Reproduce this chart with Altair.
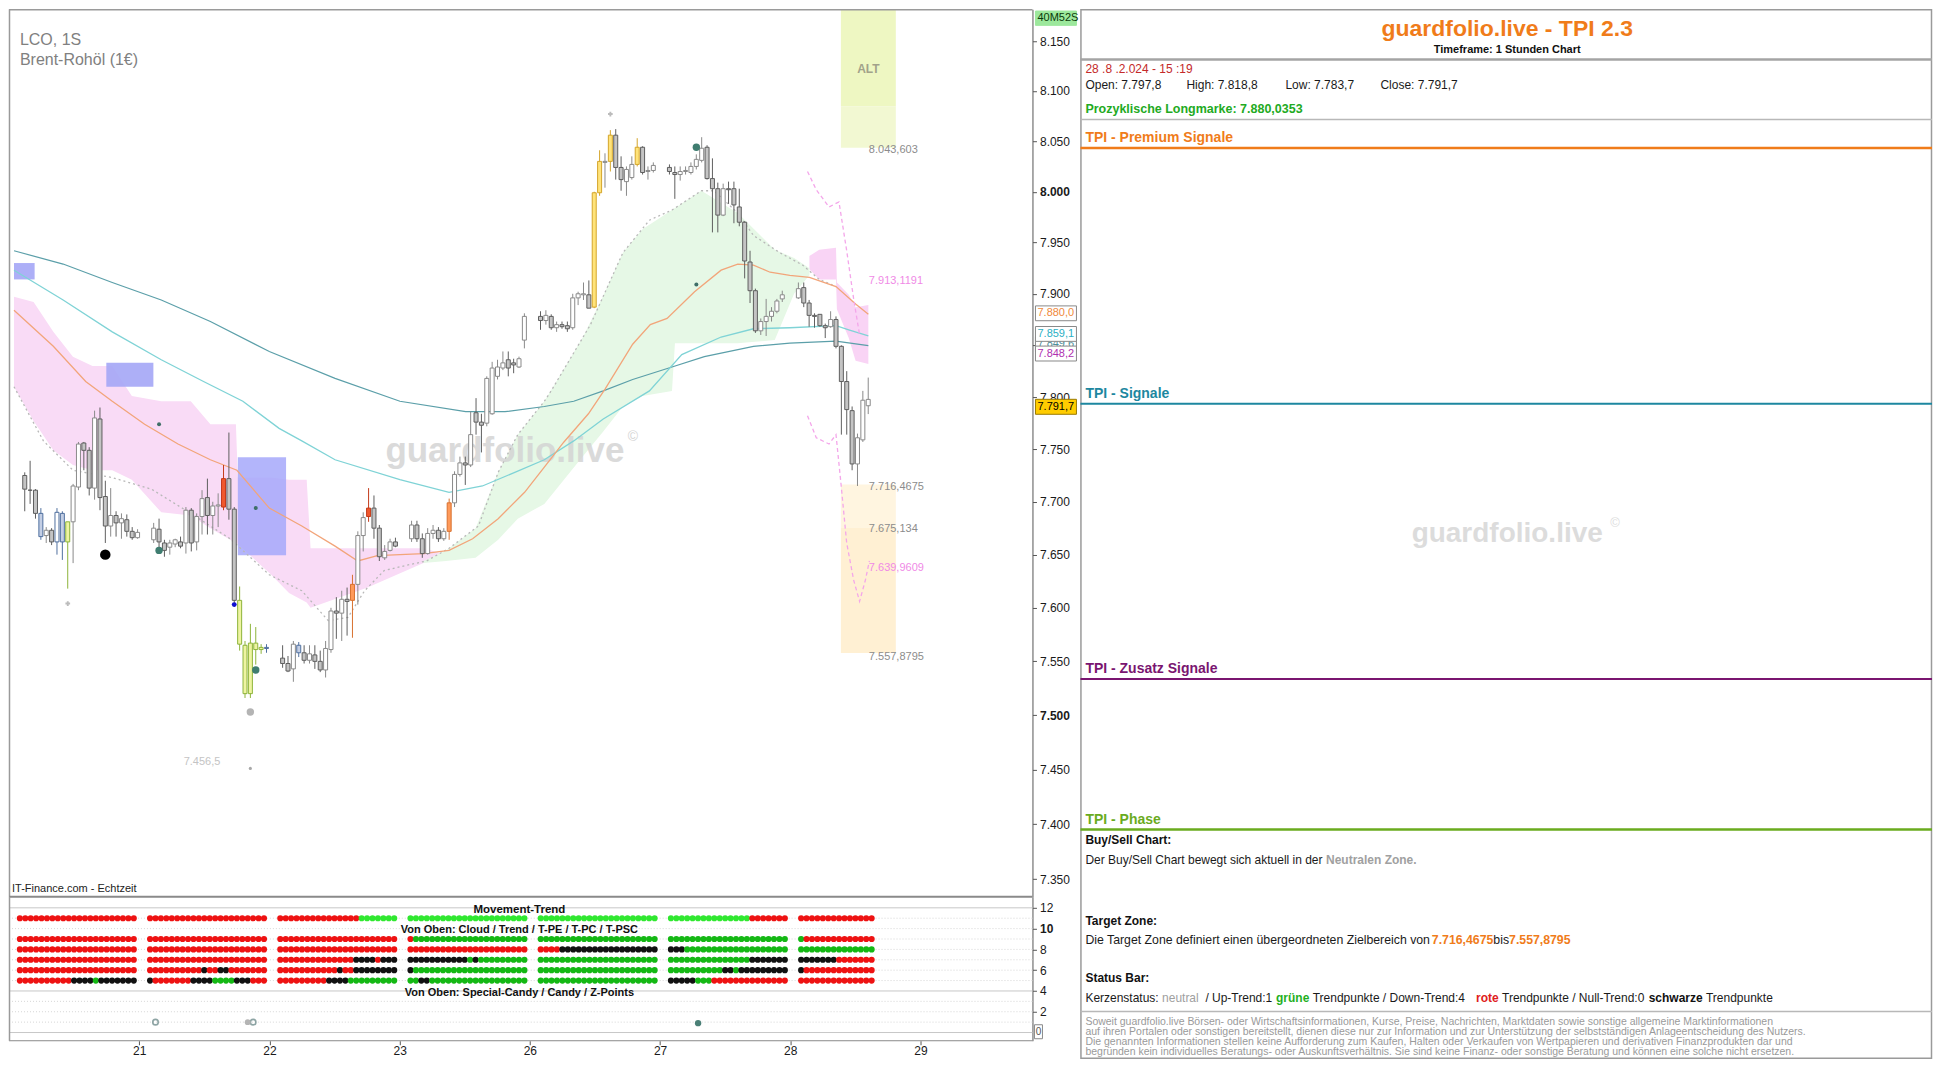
import json
import altair as alt
import pandas as pd

FONT = "Liberation Sans"

# ---------------- axis labels ----------------
day_ticks = [1, 2, 3, 4, 5, 6, 7]
day_labels = ["21", "22", "23", "26", "27", "28", "29"]
price_ticks = [7350, 7400, 7450, 7500, 7550, 7600, 7650, 7700, 7750, 7800,
               7850, 7900, 7950, 8000, 8050, 8100, 8150]
trend_ticks = [2, 4, 6, 8, 10, 12]

# ---------------- hourly candles (LCO, 1h) ----------------
d20_open = [7725, 7711, 7711, 7689, 7668, 7673, 7662, 7689, 7662, 7681, 7714, 7756, 7749, 7713, 7779, 7705, 7677, 7687, 7680, 7683, 7672, 7666]
d20_high = [7728, 7739, 7712, 7694, 7676, 7675, 7694, 7691, 7681, 7717, 7757, 7757, 7752, 7787, 7790, 7720, 7713, 7691, 7689, 7688, 7676, 7674]
d20_low = [7691, 7698, 7684, 7664, 7661, 7659, 7650, 7645, 7618, 7642, 7711, 7730, 7706, 7702, 7692, 7661, 7667, 7667, 7665, 7667, 7664, 7665]
d20_close = [7712, 7711, 7689, 7667, 7673, 7662, 7690, 7662, 7681, 7715, 7755, 7749, 7713, 7780, 7704, 7677, 7687, 7680, 7684, 7672, 7666, 7671]
d20_kind = ["dn", "dn", "dn", "blue", "up", "dn", "blueup", "blue", "yg", "up", "up", "dn", "dn", "up", "dn", "dn", "up", "dn", "up", "dn", "dn", "up"]

d21_open = [7664, 7674, 7661, 7657, 7660, 7662, 7661, 7692, 7662, 7686, 7704, 7687, 7696, 7695, 7722, 7693, 7607, 7565, 7520, 7567, 7563, 7563]
d21_high = [7680, 7684, 7664, 7664, 7665, 7667, 7695, 7694, 7689, 7711, 7722, 7700, 7708, 7735, 7766, 7695, 7620, 7569, 7585, 7582, 7566, 7566]
d21_low = [7661, 7657, 7648, 7650, 7657, 7656, 7651, 7653, 7654, 7669, 7669, 7669, 7676, 7692, 7683, 7601, 7560, 7516, 7516, 7547, 7557, 7558]
d21_close = [7675, 7662, 7654, 7661, 7664, 7658, 7692, 7661, 7686, 7703, 7687, 7696, 7697, 7722, 7693, 7607, 7566, 7520, 7567, 7561, 7561, 7562]
d21_kind = ["up", "dn", "dn", "up", "up", "dn", "up", "dn", "up", "up", "dn", "up", "up", "red", "dn", "dn", "yg", "yg", "yg", "yg", "yg", "blue"]

d22_open = [7553, 7548, 7543, 7565, 7558, 7551, 7556, 7550, 7542, 7561, 7597, 7595, 7608, 7607, 7622, 7668, 7686, 7694, 7675, 7647, 7654, 7662]
d22_high = [7565, 7555, 7569, 7568, 7565, 7565, 7565, 7560, 7569, 7600, 7610, 7616, 7619, 7631, 7672, 7690, 7713, 7706, 7678, 7659, 7665, 7666]
d22_low = [7544, 7540, 7531, 7554, 7548, 7548, 7543, 7540, 7535, 7558, 7571, 7569, 7574, 7572, 7603, 7653, 7681, 7665, 7644, 7645, 7653, 7657]
d22_close = [7548, 7541, 7566, 7558, 7551, 7557, 7550, 7542, 7562, 7597, 7595, 7608, 7606, 7622, 7668, 7685, 7694, 7675, 7648, 7653, 7662, 7658]
d22_kind = ["dn", "dn", "up", "blue", "dn", "up", "dn", "dn", "up", "up", "dn", "up", "dn", "orange", "up", "up", "red", "dn", "dn", "up", "up", "dn"]

d23_open = [7665, 7678, 7665, 7651, 7670, 7673, 7665, 7672, 7699, 7726, 7737, 7735, 7785, 7776, 7775, 7784, 7820, 7828, 7836, 7833, 7829, 7855]
d23_high = [7682, 7682, 7670, 7675, 7678, 7676, 7675, 7703, 7729, 7743, 7743, 7786, 7799, 7784, 7820, 7834, 7836, 7844, 7844, 7837, 7839, 7881]
d23_low = [7662, 7662, 7647, 7650, 7665, 7662, 7663, 7664, 7695, 7724, 7716, 7733, 7764, 7747, 7772, 7783, 7817, 7826, 7820, 7823, 7828, 7847]
d23_close = [7678, 7665, 7651, 7670, 7673, 7665, 7672, 7699, 7726, 7737, 7735, 7764, 7776, 7773, 7818, 7828, 7829, 7833, 7828, 7831, 7837, 7878]
d23_kind = ["up", "dn", "dn", "up", "up", "dn", "up", "orange", "up", "up", "dn", "up", "dn", "dn", "up", "up", "up", "up", "dn", "dn", "up", "up"]

d26_open = [7878, 7874, 7878, 7867, 7870, 7869, 7867, 7896, 7900, 7899, 7887, 7999, 8029, 8030, 8056, 8024, 8010, 8014, 8027, 8044, 8020, 8021]
d26_high = [7883, 7884, 7880, 7873, 7873, 7873, 7900, 7902, 7911, 7913, 8000, 8041, 8038, 8061, 8062, 8035, 8025, 8035, 8053, 8045, 8025, 8029]
d26_low = [7865, 7870, 7865, 7863, 7866, 7863, 7865, 7889, 7894, 7886, 7886, 7996, 8004, 8020, 8012, 8001, 7996, 8012, 8025, 8017, 8012, 8019]
d26_close = [7874, 7879, 7867, 7870, 7868, 7866, 7896, 7900, 7899, 7886, 7999, 8030, 8030, 8056, 8024, 8012, 8022, 8027, 8044, 8019, 8021, 8026]
d26_kind = ["dn", "up", "dn", "up", "dn", "dn", "up", "up", "up", "dn", "yel", "yel", "up", "yel", "dn", "dn", "up", "up", "yel", "dn", "up", "up"]

d27_open = [8024, 8019, 8017, 8020, 8019, 8025, 8031, 8044, 8013, 8003, 7977, 8003, 8003, 7985, 7970, 7931, 7903, 7864, 7873, 7878, 7883, 7895]
d27_high = [8027, 8025, 8025, 8025, 8029, 8037, 8054, 8046, 8033, 8009, 8008, 8010, 8010, 8003, 7971, 7942, 7905, 7876, 7895, 7887, 7895, 7903]
d27_low = [8017, 7993, 8011, 8017, 8017, 8022, 8029, 8012, 7960, 7960, 7976, 7988, 7969, 7966, 7915, 7891, 7862, 7860, 7859, 7873, 7881, 7892]
d27_close = [8020, 8017, 8020, 8021, 8025, 8032, 8043, 8013, 8003, 7977, 8003, 8002, 7987, 7970, 7932, 7903, 7864, 7873, 7878, 7883, 7893, 7899]
d27_kind = ["dn", "dn", "up", "up", "up", "up", "up", "dn", "dn", "dn", "up", "dn", "dn", "dn", "dn", "dn", "dn", "up", "up", "up", "up", "up"]

d28_open = [7896, 7906, 7891, 7879, 7880, 7869, 7868, 7875, 7849, 7815, 7787, 7736, 7759, 7797.8]
d28_high = [7911, 7911, 7894, 7881, 7880, 7871, 7883, 7878, 7850, 7825, 7791, 7765, 7806, 7818.8]
d28_low = [7895, 7887, 7868, 7867, 7868, 7857, 7867, 7847, 7764, 7764, 7730, 7715, 7757, 7783.7]
d28_close = [7905, 7891, 7879, 7878, 7869, 7867, 7875, 7849, 7815, 7788, 7736, 7761, 7797, 7791.7]
d28_kind = ["up", "dn", "dn", "dn", "dn", "dn", "up", "dn", "dn", "dn", "dn", "up", "up", "up"]

# ---------------- indicator lines (time in trading-day units, price) ----------------
slow_t = [0, 0.381, 0.762, 1.142, 1.523, 1.980, 2.490, 2.993, 3.503, 3.808, 4.113, 4.341, 4.570, 4.798, 5.103, 5.354, 5.735, 6.017, 6.375, 6.626]
slow_p = [7942, 7929, 7911, 7894, 7873, 7844, 7818, 7796, 7786, 7786, 7791, 7796, 7806, 7817, 7829, 7839, 7849, 7852, 7854, 7849.6]

fast_t = [0, 0.381, 0.762, 1.142, 1.470, 1.775, 2.056, 2.232, 2.490, 2.993, 3.374, 3.633, 3.884, 4.113, 4.341, 4.570, 4.928, 5.179, 5.484, 5.735, 6.017, 6.375, 6.474, 6.626]
fast_p = [7923, 7894, 7863, 7836, 7815, 7796, 7770, 7758, 7740, 7721, 7709, 7715, 7728, 7740, 7758, 7779, 7806, 7841, 7858, 7866, 7867, 7869, 7865, 7859.1]

mid_t = [0, 0.305, 0.556, 0.762, 1.013, 1.272, 1.523, 1.729, 1.980, 2.232, 2.490, 2.666, 2.818, 2.993, 3.176, 3.374, 3.557, 3.755, 3.960, 4.113, 4.265, 4.455, 4.585, 4.798, 4.935, 5.065, 5.278, 5.484, 5.613, 5.735, 5.864, 6.017, 6.169, 6.375, 6.527, 6.626]
mid_p = [7884, 7849, 7815, 7796, 7774, 7755, 7740, 7730, 7694, 7677, 7658, 7644, 7649, 7650, 7651, 7654, 7665, 7684, 7709, 7733, 7757, 7784, 7808, 7851, 7870, 7876, 7902, 7923, 7929, 7928, 7921, 7918, 7916, 7907, 7890, 7880]

trail_t = [0, 0.228, 0.457, 0.762, 1.066, 1.371, 1.676, 1.980, 2.232, 2.437, 2.590, 2.719, 2.871, 3.046, 3.199, 3.374, 3.602, 3.755, 3.907, 4.113, 4.166, 4.471, 4.722, 4.928, 5.103, 5.331, 5.430, 5.613, 5.735, 5.941, 6.116, 6.245, 6.375]
trail_p = [7810, 7758, 7730, 7723, 7712, 7689, 7665, 7631, 7616, 7588, 7591, 7616, 7635, 7640, 7644, 7656, 7677, 7728, 7764, 7796, 7806, 7870, 7940, 7972, 7982, 8001, 8001, 7979, 7957, 7940, 7928, 7914, 7907]

proj_hi_t = [6.154, 6.222, 6.321, 6.398, 6.458, 6.512, 6.558]
proj_hi_p = [8020, 8002, 7985, 7990, 7942, 7895, 7860]
proj_lo_t = [6.154, 6.222, 6.321, 6.375, 6.413, 6.458, 6.512, 6.558, 6.603, 6.634]
proj_lo_p = [7782, 7761, 7755, 7764, 7718, 7661, 7626, 7606, 7626, 7644]

# clouds
pink1_t = [0, 0.152, 0.305, 0.457, 0.609, 0.762, 0.914, 1.142, 1.371, 1.523, 1.721, 1.736, 1.995, 2.133, 2.270, 2.300, 2.742, 3.176, 3.351]
pink1_hi = [7897, 7892, 7863, 7839, 7830, 7830, 7801, 7796, 7796, 7774, 7774, 7723, 7723, 7721, 7721, 7656, 7656, 7656, 7650]
pink1_lo = [7810, 7777, 7749, 7735, 7730, 7730, 7721, 7690, 7687, 7675, 7661, 7660, 7631, 7614, 7605, 7600, 7619, 7642, 7649]
pink2_t = [6.169, 6.245, 6.375, 6.382, 6.474, 6.527, 6.626]
pink2_hi = [7937, 7943, 7945, 7911, 7899, 7887, 7889]
pink2_lo = [7924, 7914, 7914, 7885, 7857, 7835, 7832]
green_t = [3.176, 3.351, 3.580, 3.755, 3.907, 4.113, 4.265, 4.417, 4.570, 4.722, 4.874, 5.103, 5.126, 5.331, 5.613, 5.900, 6.050, 6.169]
green_hi = [7644, 7654, 7675, 7728, 7764, 7796, 7827, 7859, 7898, 7940, 7963, 7982, 7984, 8001, 7979, 7943, 7935, 7925]
green_lo = [7642, 7644, 7647, 7664, 7684, 7698, 7721, 7744, 7767, 7791, 7801, 7806, 7852, 7852, 7852, 7855, 7900, 7918]

# zones / boxes: (t_start, t_end, price_low, price_high)
box_names = ["lav1", "lav2", "lav3", "alt_top", "alt_low", "tz_top", "tz_low"]
box_t1 = [0.0, 0.716, 1.736, 6.413, 6.413, 6.413, 6.413]
box_t2 = [0.160, 1.081, 2.110, 6.839, 6.839, 6.839, 6.839]
box_p1 = [7914, 7810, 7649.5, 8084.6, 8043.6, 7675.1, 7557.9]
box_p2 = [7930, 7833, 7742.5, 8182, 8084.6, 7716.5, 7675.1]

zone_label_text = ["8.043,603", "7.913,1191", "7.716,4675", "7.675,134", "7.639,9609", "7.557,8795"]
zone_label_p = [8041, 7912, 7714, 7674, 7637, 7554]
zone_label_pink = [False, True, False, False, True, False]

# signal points
sig_t = [0.708, 1.125, 1.125, 1.708, 1.833, 1.833, 1.875, 1.875, 5.292, 5.292]
sig_p = [7650, 7654, 7774, 7603, 7503, 7451, 7694, 7542, 8044, 7909]
sig_kind = ["black", "teal", "teal_s", "blue_s", "grey", "grey_s", "teal_s", "teal", "teal", "teal_s"]
cross_t = [0.417, 4.625]
cross_p = [7604, 8077]

# right-axis price badges
badge_text = ["40M52S", "7.849,6", "7.880,0", "7.859,1", "7.848,2", "7.791,7"]
badge_p = [8173, 7851, 7881, 7861, 7842, 7790.7]

# ---------------- Movement-Trend status dots ----------------
trend_rows = [11, 9, 8, 7, 6, 5]
tr20 = ["r" * 22, "r" * 22, "r" * 22, "r" * 22, "r" * 22, "r" * 10 + "k" * 4 + "g" + "k" * 7]
tr21 = ["r" * 22, "r" * 22, "r" * 22, "r" * 22,
        "r" * 10 + "k" + "r" * 2 + "k" * 2 + "r" * 7,
        "k" + "r" * 7 + "k" * 4 + "g" * 4 + "k" * 3 + "r" * 3]
tr22 = ["r" * 15 + "g" * 7, "r" * 22, "r" * 22,
        "r" * 14 + "k" * 4 + "r" + "k" * 3,
        "r" * 11 + "k" + "r" * 2 + "k" * 8,
        "r" * 9 + "k" * 4 + "g" * 9]
tr23_26 = ["g" * 44, "r" + "g" * 43, "r" * 26 + "k" * 18,
           "k" * 11 + "g" + "k" + "g" * 31, "k" + "g" * 43, "g" * 2 + "k" * 2 + "g" * 40]
tr27 = ["g" * 15 + "r" * 7, "g" * 22, "k" * 3 + "g" * 19, "g" * 15 + "k" * 7,
        "g" * 10 + "k" * 2 + "g" + "k" * 9, "k" * 5 + "g" * 3 + "r" * 14]
tr28 = ["r" * 14, "g" + "r" * 13, "g" * 14, "k" * 7 + "r" * 7, "k" + "r" * 13, "r" * 14]

special_t = [1.125, 1.833, 1.875, 5.292]
special_v = [1, 1, 1, 0.9]
special_kind = ["hollow", "grey", "hollow", "teal"]

# ======================================================================
W, H1, H2 = 1024, 888, 144
Wi, Hi = 852, 1050
OX = W + 48  # left edge of the info panel


def mx(x):
    return x * W / 1032


def my(y):
    return y * H1 / 904


def ix(x):
    return OX + (x - 1080) * Wi / 860


def iy(y):
    return y * Hi / 1067


# Arial / Liberation Sans advance widths (1/1000 em) for laying out text runs
_REG = {" ": 278, ",": 278, "-": 333, ".": 278, "/": 278, ":": 278, "(": 333, ")": 333,
        "A": 667, "B": 667, "C": 722, "D": 722, "E": 667, "F": 611, "G": 778, "H": 722, "I": 278,
        "K": 667, "L": 556, "M": 833, "N": 722, "O": 778, "P": 667, "R": 722, "S": 667, "T": 611,
        "U": 722, "V": 667, "W": 944, "Z": 611, "a": 556, "b": 556, "c": 500, "d": 556, "e": 556,
        "f": 278, "g": 556, "h": 556, "i": 222, "j": 222, "k": 500, "l": 222, "m": 833, "n": 556,
        "o": 556, "p": 556, "r": 333, "s": 500, "t": 278, "u": 556, "ü": 556, "v": 500, "w": 722,
        "x": 500, "y": 500, "z": 500}
_BOLD = {" ": 278, ",": 278, "-": 333, ".": 278, "/": 278, ":": 333, "a": 556, "b": 611, "c": 556,
         "d": 611, "e": 556, "g": 611, "h": 611, "i": 278, "l": 278, "n": 611, "o": 611, "r": 389,
         "s": 556, "t": 333, "u": 611, "ü": 611, "w": 778, "z": 500}


def tw(txt, size, bold=False):
    table = _BOLD if bold else _REG
    return sum(table.get(ch, 556) for ch in txt) * size / 1000.0


one = pd.DataFrame({"k": [0]})

KIND_FILL = {"up": "#ffffff", "dn": "#c4c4c4", "blue": "#c3cee4", "blueup": "#ffffff",
             "yg": "#eef4a2", "yel": "#ffe37a", "red": "#f0582e", "orange": "#ff9a5a"}
KIND_STROKE = {"up": "#8a8a8a", "dn": "#5e5e5e", "blue": "#4f6f9f", "blueup": "#4f6f9f",
               "yg": "#8db43a", "yel": "#d4a52a", "red": "#c43a1a", "orange": "#d8702e"}

days = [
    (d20_open, d20_high, d20_low, d20_close, d20_kind),
    (d21_open, d21_high, d21_low, d21_close, d21_kind),
    (d22_open, d22_high, d22_low, d22_close, d22_kind),
    (d23_open, d23_high, d23_low, d23_close, d23_kind),
    (d26_open, d26_high, d26_low, d26_close, d26_kind),
    (d27_open, d27_high, d27_low, d27_close, d27_kind),
    (d28_open, d28_high, d28_low, d28_close, d28_kind),
]
rows = []
for d, (O, Hh, L, C, K) in enumerate(days):
    for k in range(len(O)):
        rows.append(dict(t=d + (k + 2) / 24, o=O[k], h=Hh[k], l=L[k], c=C[k], kind=K[k]))
candles = pd.DataFrame(rows)
candles["top"] = candles[["o", "c"]].max(axis=1)
candles["bot"] = candles[["o", "c"]].min(axis=1)
candles["fill"] = candles["kind"].map(KIND_FILL)
candles["stroke"] = candles["kind"].map(KIND_STROKE)

xs = alt.Scale(domain=[0, 7.86], nice=False, zero=False)
ys = alt.Scale(type="log", domain=[7334, 8182], nice=False, zero=False)

yaxis = alt.Axis(orient="right", values=price_ticks,
                 labelExpr="replace(format(datum.value, ',.0f'), ',', '.')",
                 labelFontWeight={"condition": {"test": "datum.value == 8000 || datum.value == 7500",
                                                "value": "bold"}, "value": "normal"},
                 labelFontSize=12, labelColor="#1a1a1a", labelFont=FONT, tickColor="#555555",
                 tickSize=4, domainColor="#555555", grid=False, labelOverlap=False,
                 labelPadding=3, labelFlush=False, title=None, zindex=0)


def X(f):
    return alt.X(f, type="quantitative", scale=xs, axis=None)


def Y(f):
    return alt.Y(f, type="quantitative", scale=ys, axis=yaxis)


layers = []


def area_layer(t, hi, lo, color, op=1.0):
    df = pd.DataFrame({"t": t, "hi": hi, "lo": lo})
    return alt.Chart(df).mark_area(color=color, opacity=op).encode(x=X("t"), y=Y("hi"), y2="lo")


layers.append(area_layer(pink1_t, pink1_hi, pink1_lo, "#f9dbf6"))
layers.append(area_layer(pink2_t, pink2_hi, pink2_lo, "#f9d4f5"))
layers.append(area_layer(green_t, green_hi, green_lo, "#e6f8e6"))

BOX_COL = {"lav1": ("#a4a6f6", 0.9), "lav2": ("#a4a6f6", 0.9), "lav3": ("#a6a8fa", 0.85),
           "alt_top": ("#eef7c2", 1.0), "alt_low": ("#f2f8d2", 1.0),
           "tz_top": ("#fff5e0", 1.0), "tz_low": ("#fff0d3", 1.0)}
for i, name in enumerate(box_names):
    df = pd.DataFrame({"t1": [box_t1[i]], "t2": [box_t2[i]], "p1": [box_p1[i]], "p2": [box_p2[i]]})
    col, op = BOX_COL[name]
    layers.append(alt.Chart(df).mark_rect(color=col, opacity=op).encode(
        x=X("t1"), x2="t2", y=Y("p1"), y2="p2"))

# watermark
layers.append(alt.Chart(one).mark_text(text="guardfolio.live", fontSize=35, fontWeight="bold",
                                       color="#d4d4d4", opacity=0.85, font=FONT, align="center",
                                       baseline="middle").encode(x=alt.value(mx(500)), y=alt.value(my(450))))
layers.append(alt.Chart(one).mark_text(text="©", fontSize=14, color="#d4d4d4", font=FONT,
                                       align="left", baseline="middle").encode(
    x=alt.value(mx(624)), y=alt.value(my(436))))


def line_layer(t, p, color, width=1.2, dash=None, op=1.0):
    df = pd.DataFrame({"t": t, "p": p})
    kw = dict(color=color, strokeWidth=width, opacity=op)
    if dash:
        kw["strokeDash"] = dash
    return alt.Chart(df).mark_line(**kw).encode(x=X("t"), y=Y("p"))


layers.append(line_layer(trail_t, trail_p, "#b8b8b8", 1.3, [2, 3]))
layers.append(line_layer(slow_t, slow_p, "#5b9fa9", 1.2))
layers.append(line_layer(fast_t, fast_p, "#7fd3d6", 1.3))
layers.append(line_layer(mid_t, mid_p, "#f2a57a", 1.3))
layers.append(line_layer(proj_hi_t, proj_hi_p, "#f4a6ea", 1.3, [4, 3]))
layers.append(line_layer(proj_lo_t, proj_lo_p, "#f4a6ea", 1.3, [4, 3]))

layers.append(alt.Chart(candles).mark_rule(strokeWidth=1).encode(
    x=X("t"), y=Y("l"), y2="h", stroke=alt.Stroke("stroke:N", scale=None)))
layers.append(alt.Chart(candles).mark_bar(size=4, strokeWidth=1).encode(
    x=X("t"), y=Y("bot"), y2="top",
    fill=alt.Fill("fill:N", scale=None), stroke=alt.Stroke("stroke:N", scale=None)))

SIG_STYLE = {"black": ("#000000", 110), "teal": ("#3f7d70", 55), "teal_s": ("#3f6f68", 16),
             "blue_s": ("#1010d0", 24), "grey": ("#b4b4b4", 55), "grey_s": ("#a8a8a8", 10)}
sig = pd.DataFrame({"t": sig_t, "p": sig_p, "kind": sig_kind})
sig["col"] = sig["kind"].map(lambda k: SIG_STYLE[k][0])
sig["sz"] = sig["kind"].map(lambda k: SIG_STYLE[k][1])
layers.append(alt.Chart(sig).mark_circle(opacity=1).encode(
    x=X("t"), y=Y("p"), fill=alt.Fill("col:N", scale=None), size=alt.Size("sz:Q", scale=None)))
layers.append(alt.Chart(pd.DataFrame({"t": cross_t, "p": cross_p})).mark_point(
    shape="cross", filled=True, color="#a0a0a0", size=22).encode(x=X("t"), y=Y("p")))
layers.append(alt.Chart(pd.DataFrame({"t": [1.833], "p": [7456.5], "lab": ["7.456,5"]})).mark_text(
    align="right", baseline="middle", dx=-30, fontSize=11, color="#c4c4c4", font=FONT).encode(
    x=X("t"), y=Y("p"), text="lab:N"))

zl = pd.DataFrame({"p": zone_label_p, "lab": zone_label_text, "pink": zone_label_pink})
zl["t"] = 6.63
zl["col"] = zl["pink"].map({True: "#f08ae6", False: "#8c8c8c"})
layers.append(alt.Chart(zl).mark_text(align="left", baseline="middle", fontSize=11, font=FONT).encode(
    x=X("t"), y=Y("p"), text="lab:N", color=alt.Color("col:N", scale=None)))
layers.append(alt.Chart(pd.DataFrame({"t": [6.626], "p": [8122]})).mark_text(
    text="ALT", fontSize=12, fontWeight="bold", color="#a2a28a", font=FONT).encode(x=X("t"), y=Y("p")))

layers.append(alt.Chart(one).mark_text(text="LCO, 1S", align="left", baseline="middle", fontSize=16,
                                       color="#808080", font=FONT).encode(x=alt.value(mx(11)), y=alt.value(my(31))))
layers.append(alt.Chart(one).mark_text(text="Brent-Rohöl (1€)", align="left", baseline="middle",
                                       fontSize=16, color="#808080", font=FONT).encode(
    x=alt.value(mx(11)), y=alt.value(my(52))))
layers.append(alt.Chart(one).mark_text(text="IT-Finance.com - Echtzeit", align="left", baseline="middle",
                                       fontSize=11, color="#222222", font=FONT).encode(
    x=alt.value(3), y=alt.value(my(896))))

BADGE_STYLE = {"40M52S": ("#9ce89c", "#9ce89c", "#0a3a0a"),
               "7.849,6": ("#ffffff", "#888888", "#4f8f9a"),
               "7.880,0": ("#ffffff", "#888888", "#f08a3c"),
               "7.859,1": ("#ffffff", "#888888", "#2bb0c4"),
               "7.848,2": ("#ffffff", "#888888", "#b030b0"),
               "7.791,7": ("#ffcc00", "#9a7a00", "#000000")}
for lab, p in zip(badge_text, badge_p):
    fill, stroke, tcol = BADGE_STYLE[lab]
    df = pd.DataFrame({"p": [p]})
    df["hi"] = df["p"] + 7.2
    df["lo"] = df["p"] - 7.2
    layers.append(alt.Chart(df).mark_rect(fill=fill, stroke=stroke, strokeWidth=1).encode(
        x=alt.value(W + 3), x2=alt.value(W + 44), y=Y("hi"), y2="lo"))
    layers.append(alt.Chart(df).mark_text(text=lab, align="left", baseline="middle", fontSize=11,
                                          color=tcol, font=FONT).encode(x=alt.value(W + 5), y=Y("p")))

layers.append(alt.Chart(one).mark_rule(color="#9a9a9a", strokeWidth=1.5).encode(
    x=alt.value(0), x2=alt.value(W), y=alt.value(0.5)))
layers.append(alt.Chart(one).mark_rule(color="#9a9a9a", strokeWidth=1.5).encode(
    x=alt.value(0.5), y=alt.value(0), y2=alt.value(H1)))

# ---------------- info panel (drawn to the right of the price axis) ----------------


def itext(txt, x, y, size=12, color="#1a1a1a", weight="normal", align="left"):
    layers.append(alt.Chart(one).mark_text(text=txt, align=align, baseline="middle", fontSize=size,
                                           color=color, fontWeight=weight, font=FONT).encode(
        x=alt.value(ix(x)), y=alt.value(iy(y))))


def irun(parts, x, y, size=12):
    # parts: list of (text, color, bold) placed one after another on a line
    px = ix(x)
    for txt, color, bold in parts:
        lead = len(txt) - len(txt.lstrip(" "))
        px += tw(" " * lead, size, bold)
        body = txt.strip(" ")
        layers.append(alt.Chart(one).mark_text(text=body, align="left", baseline="middle", fontSize=size,
                                               color=color, fontWeight="bold" if bold else "normal",
                                               font=FONT).encode(x=alt.value(px), y=alt.value(iy(y))))
        px += tw(txt.lstrip(" "), size, bold)


def irule(y, color, width):
    layers.append(alt.Chart(one).mark_rule(color=color, strokeWidth=width).encode(
        x=alt.value(OX), x2=alt.value(OX + Wi), y=alt.value(iy(y))))


layers.append(alt.Chart(one).mark_rect(fill="#ffffff", stroke="#9a9a9a", strokeWidth=1.5).encode(
    x=alt.value(OX + 0.5), x2=alt.value(OX + Wi - 0.5), y=alt.value(0.5), y2=alt.value(Hi - 0.5)))
layers.append(alt.Chart(one).mark_text(text="guardfolio.live", fontSize=28, fontWeight="bold",
                                       color="#dcdcdc", font=FONT, align="center", baseline="middle").encode(
    x=alt.value(ix(1511)), y=alt.value(iy(533))))
layers.append(alt.Chart(one).mark_text(text="©", fontSize=13, color="#dcdcdc", font=FONT,
                                       align="left", baseline="middle").encode(
    x=alt.value(ix(1615)), y=alt.value(iy(522))))

ORANGE = "#f07c1a"
DARK = "#1a1a1a"
itext("guardfolio.live - TPI 2.3", 1511, 20, 23, ORANGE, "bold", "center")
itext("Timeframe: 1 Stunden Chart", 1511, 41, 11, "#111111", "bold", "center")
irule(51, "#a4a4a4", 2.5)
itext("28 .8 .2.024 - 15 :19", 1085, 61, 12, "#c42a2a")
itext("Open:  7.797,8", 1085, 77, 12)
itext("High:  7.818,8", 1187, 77, 12)
itext("Low:   7.783,7", 1287, 77, 12)
itext("Close: 7.791,7", 1383, 77, 12)
itext("Prozyklische Longmarke:  7.880,0353", 1085, 101, 12.5, "#22aa22", "bold")
irule(112, "#b8b8b8", 1.5)
itext("TPI - Premium Signale", 1085, 131, 14, ORANGE, "bold")
irule(141, ORANGE, 2.5)
itext("TPI - Signale", 1085, 391, 14, "#1d87a0", "bold")
irule(401, "#1d87a0", 2)
itext("TPI - Zusatz Signale", 1085, 671, 14, "#7a1570", "bold")
irule(681, "#7a1570", 2)
itext("TPI - Phase", 1085, 824, 14, "#6aab1e", "bold")
irule(834, "#6aab1e", 2.5)
itext("Buy/Sell Chart:", 1085, 845, 12, "#111111", "bold")
irun([("Der Buy/Sell Chart bewegt sich aktuell in der ", DARK, False),
      ("Neutralen Zone.", "#a0a0a0", True)], 1085, 865)
itext("Target Zone:", 1085, 927, 12, "#111111", "bold")
irun([("Die Target Zone definiert einen übergeordneten Zielbereich von", DARK, False),
      ("7.716,4675", ORANGE, True), ("bis", DARK, False), ("7.557,8795", ORANGE, True)], 1085, 946, 12.3)
itext("Status Bar:", 1085, 985, 12, "#111111", "bold")
irun([("Kerzenstatus: ", DARK, False), ("neutral", "#a0a0a0", False), ("  / Up-Trend:1 ", DARK, False),
      ("grüne", "#1fb01f", True), (" Trendpunkte  / Down-Trend:4  ", DARK, False),
      ("rote", "#e02020", True), (" Trendpunkte / Null-Trend:0 ", DARK, False),
      ("schwarze", "#111111", True), (" Trendpunkte", DARK, False)], 1085, 1005, 12)
irule(1019, "#b8b8b8", 1.5)
disclaimer = [
    "Soweit guardfolio.live Börsen- oder Wirtschaftsinformationen, Kurse, Preise, Nachrichten, Marktdaten sowie sonstige allgemeine Marktinformationen",
    "auf ihren Portalen oder sonstigen bereitstellt, dienen diese nur zur Information und zur Unterstützung der selbstständigen Anlageentscheidung des Nutzers.",
    "Die genannten Informationen stellen keine Aufforderung zum Kaufen, Halten oder Verkaufen von Wertpapieren und derivativen Finanzprodukten dar und",
    "begründen kein individuelles Beratungs- oder Auskunftsverhältnis. Sie sind keine Finanz- oder sonstige Beratung und können eine solche nicht ersetzen.",
]
for i, line in enumerate(disclaimer):
    itext(line, 1085, 1030 + i * 10, 10.5, "#9a9a9a")

main = alt.layer(*layers).properties(width=W, height=H1)

# ---------------- trend panel ----------------
ts = alt.Scale(domain=[-0.79, 13.06], nice=False, zero=False)
trows = []
for d, strs in [(0, tr20), (1, tr21), (2, tr22), (3, [s[:22] for s in tr23_26]),
                (4, [s[22:] for s in tr23_26]), (5, tr27), (6, tr28)]:
    for r, s in zip(trend_rows, strs):
        for k, ch in enumerate(s):
            trows.append(dict(t=d + (k + 2) / 24, row=r, c=ch))
tdf = pd.DataFrame(trows)
DOT = {"r": "#ee1212", "g": "#14b814", "k": "#111111"}
tdf["col"] = tdf["c"].map(DOT)
tdf.loc[(tdf["row"] == 11) & (tdf["c"] == "g"), "col"] = "#30e830"

xaxis = alt.Axis(values=day_ticks, labelExpr="%s[datum.value - 1]" % json.dumps(day_labels),
                 orient="bottom", domain=False, grid=False, tickSize=4, tickColor="#555555",
                 labelFontSize=12, labelColor="#1a1a1a", labelFont=FONT, labelPadding=1,
                 labelFlush=False, title=None)
taxis = alt.Axis(orient="right", values=trend_ticks,
                 labelFontWeight={"condition": {"test": "datum.value == 10", "value": "bold"},
                                  "value": "normal"},
                 labelFontSize=12, labelColor="#1a1a1a", labelFont=FONT, tickColor="#555555",
                 tickSize=4, domainColor="#555555", grid=False, labelPadding=3, title=None)


def TX(f):
    return alt.X(f, type="quantitative", scale=xs, axis=xaxis)


def TY(f):
    return alt.Y(f, type="quantitative", scale=ts, axis=taxis)


tl = []
grid_solid = pd.DataFrame({"v": [12, 4, 0]})
grid_dot = pd.DataFrame({"v": [1, 2, 3, 5, 6, 7, 8, 9, 10, 11]})
tl.append(alt.Chart(grid_dot).mark_rule(color="#d6d6d6", strokeWidth=1, strokeDash=[1, 2]).encode(
    y=TY("v"), x=alt.value(0), x2=alt.value(W)))
tl.append(alt.Chart(grid_solid).mark_rule(color="#c8c8c8", strokeWidth=1).encode(
    y=TY("v"), x=alt.value(0), x2=alt.value(W)))

tl.append(alt.Chart(tdf).mark_circle(size=38, opacity=1).encode(
    x=TX("t"), y=TY("row"), fill=alt.Fill("col:N", scale=None)))

sp = pd.DataFrame({"t": special_t, "v": special_v, "kind": special_kind})
tl.append(alt.Chart(sp[sp.kind == "hollow"]).mark_point(shape="circle", filled=False, strokeWidth=1.6,
                                                         color="#5f7f7f", size=30).encode(
    x=TX("t"), y=TY("v")))
tl.append(alt.Chart(sp[sp.kind == "grey"]).mark_circle(color="#b4b4b4", size=34, opacity=1).encode(
    x=TX("t"), y=TY("v")))
tl.append(alt.Chart(sp[sp.kind == "teal"]).mark_circle(color="#4a7f76", size=40, opacity=1).encode(
    x=TX("t"), y=TY("v")))

for txt, v, fs in [("Movement-Trend", 11.75, 11.5), ("Von Oben: Cloud / Trend / T-PE / T-PC / T-PSC", 9.85, 11),
                   ("Von Oben: Special-Candy / Candy / Z-Points", 3.8, 11)]:
    tl.append(alt.Chart(pd.DataFrame({"t": [3.92], "v": [v]})).mark_text(
        text=txt, fontSize=fs, fontWeight="bold", color="#111111", font=FONT,
        align="center", baseline="middle").encode(x=TX("t"), y=TY("v")))

tl.append(alt.Chart(one).mark_rect(fill="#ffffff", stroke="#8a8a8a", strokeWidth=1).encode(
    x=alt.value(W + 2), x2=alt.value(W + 10), y=alt.value(H2 - 16), y2=alt.value(H2 - 2)))
tl.append(alt.Chart(one).mark_text(text="0", fontSize=10, color="#555555", font=FONT,
                                   align="center", baseline="middle").encode(
    x=alt.value(W + 6), y=alt.value(H2 - 9)))
tl.append(alt.Chart(one).mark_rule(color="#8a8a8a", strokeWidth=2).encode(
    x=alt.value(0), x2=alt.value(W), y=alt.value(0)))
tl.append(alt.Chart(one).mark_rule(color="#8a8a8a", strokeWidth=1).encode(
    x=alt.value(0), x2=alt.value(W), y=alt.value(H2)))
tl.append(alt.Chart(one).mark_rule(color="#9a9a9a", strokeWidth=1.5).encode(
    x=alt.value(0.5), y=alt.value(0), y2=alt.value(H2)))

trend = alt.layer(*tl).properties(width=W, height=H2)

chart = alt.vconcat(main, trend, spacing=0, bounds="flush").configure_view(stroke=None).properties(
    padding=0, background="white")

chart.save("out.html", embed_options={"renderer": "svg", "actions": False})
